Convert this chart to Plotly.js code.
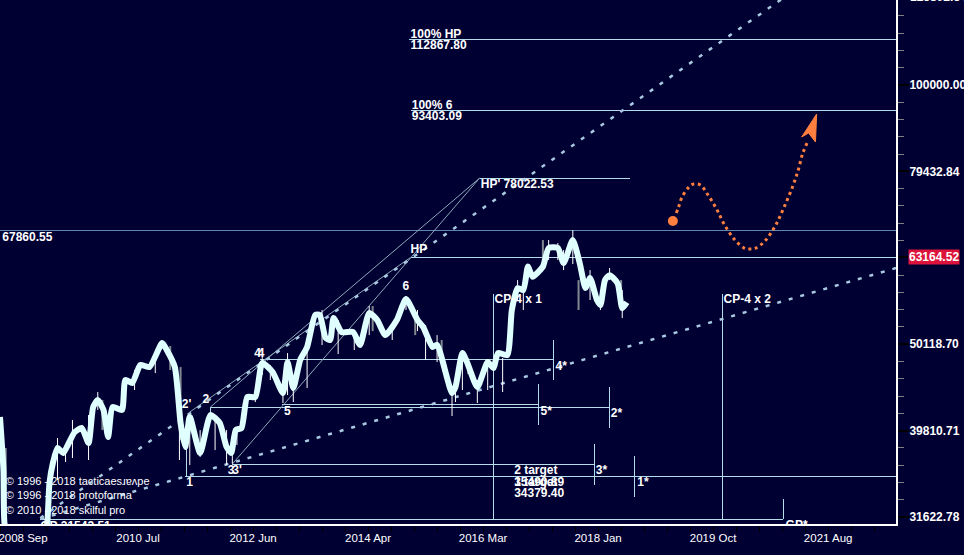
<!DOCTYPE html>
<html><head><meta charset="utf-8">
<script src="https://cdn.plot.ly/plotly-3.0.1.min.js"></script>
<style>html,body{margin:0;padding:0;background:#000033;overflow:hidden}#c{width:964px;height:555px}
.scatterlayer .trace:nth-child(-n+3) .js-line{shape-rendering:crispEdges}</style>
</head><body><div id="c"></div>
<script>
// x values are bar numbers of the chart's time axis; y values are prices
const closeBars=[0,3,4,9,22,35,41,43,46,50,55,59,65,71,77,81,85,90,94,98,106,109,115,122,130,141,145,152,157,161,165,174,183,191,197,201,205,210,215,222,228,237,246,250,255,261,267,274,278,283,287,290,297,307,313,321,328,335,345,353,363,368,376,380,393,396,402,406,415,424,429,433,441,445,450,455,459,463,472,477,485,490,498,504,509,513,519,522,526,530,537,541,545];
const closePrices=[41280,35842,31039,29700,27450,28200,31040,34620,36520,38010,37510,38320,39660,40090,38520,42400,43190,42060,39140,42400,42060,45560,45200,47410,47160,50270,49350,47160,40630,38120,41290,37510,41500,40630,38120,37510,39870,40090,43540,43540,47670,46540,44000,47790,44590,48050,49740,54170,54170,51000,50680,53740,51770,51770,50010,54460,53450,51350,53450,56530,53450,52460,49740,50010,44000,44710,48950,47790,44710,47790,47040,48950,48690,54900,58200,57900,61640,60000,61640,64760,64760,62220,66150,62220,58210,59800,56380,55640,59460,60250,58950,55170,56040];

const wickBars=[50,57,63,77,85,94,106,117,135,156,165,174,187,197,202,206,222,228,235,246,250,255,267,280,294,308,321,341,353,363,370,380,393,396,402,415,424,437,450,455,477,485,490,498,513,522,530,541];
const wickHigh=[39030,38310,40950,41500,44120,40950,43190,46790,48690,40950,40950,39870,41170,39870,38120,39870,44360,49350,47410,45560,48950,44950,50680,54900,53450,52050,55480,52740,56980,54900,52740,51350,43770,45560,49090,45560,47410,48310,59460,58680,66150,65620,64410,67940,61070,56680,61400,57900];
const wickLow=[34900,36610,37010,36810,42060,38830,41830,44360,46410,36810,36320,37110,37800,36320,36440,38310,42960,46160,45560,42850,43770,42960,44590,50010,48820,49350,51350,50680,54900,51900,48050,47790,41390,42960,44360,42850,44360,44120,56380,54900,62720,62720,61070,62050,56380,54900,59460,53740];

const shadeBars=[5,89,148,157,324,361,384,407,472,503,540];
const shadeHigh=[38000,43200,49880,47160,55480,53450,50680,48310,66150,59460,59460];
const shadeLow=[31400,39870,46790,38830,51900,51350,47910,46290,62220,54900,55170];

const levelPrices=[112867.80,93403.09,78022.53,63164.52,48176,42660,42330,36420,35200,31455];
const levelStart=[356,357,417,357,226,245,183,202,161,35];
const levelEnd=[779,779,548,779,481,468,530,517,779,681];
const pivotPrice=[67860.55];

const stemBars=[162,183,429,628,481,468,530,517,552,681];
const stemTop=[38120,42330,57290,57290,50680,45070,44710,38420,37210,33180];
const stemBottom=[35200,41500,31455,31455,45560,40400,40090,34440,33350,31455];

const rayBars0=[165,183,202], rayPrice0=[41830,42400,36420];
const rayBars1=[357,417,417], rayPrice1=[63164.52,78022.53,78022.53];

const lowerTrendBars=[35,779], lowerTrendPrices=[31455,61400];
const upperTrendBars=[35,779], upperTrendPrices=[31540,155600];

const pathBars=[588,590,593,599,603,609,615,623,630,639,647,652,657,665,674,681,689,694,698,703];
const pathPrices=[71100,72240,74190,76200,76810,76600,74790,71860,68860,66150,64760,64590,64760,65970,68680,71860,76200,79730,83420,86360];
const pathStartBar=[585], pathStartPrice=[69600];
const headBars=[710,697,703,709,710], headPrices=[92560,87060,87990,85910,92560];

const labelTexts=["67860.55","100% HP","112867.80","100% 6","93403.09","HP' 78022.53","HP","6","CP-4 x 1","CP-4 x 2","4*","5*","2*","3*","1*","GP*","2 target","1 target","35490.89","34379.40","2'","2","4","4","5","3","3'","1","GP 31543.51"];
const labelBars=[2,357,357,358,358,418,357,350,430,629,483,470,531,518,554,683,447,447,447,447,158,176,221,224,247,198,202,162,35];
const labelPrices=[66500,114250,110960,94560,91830,76600,64430,58370,56380,56380,47160,41830,41600,35750,34620,30870,35750,34620,34620,33620,42620,43190,48820,48820,41830,35750,35750,34620,30790];
const noteTexts=["© 1996 - 2018 tacticaesɹɐʌpe","© 1996 - 2018 protoforma","© 2010 - 2018 skilful pro"];
const noteBars=[5,5,5], notePrices=[34710,33440,32140];

const tickBars=[20,120,220,320,420,520,620,720];
const tickLabels=["2008 Sep","2010 Jul","2012 Jun","2014 Apr","2016 Mar","2018 Jan","2019 Oct","2021 Aug"];
const minorBars=[0,20,40,60,80,100,120,140,160,180,200,220,240,260,280,300,320,340,360,380,400,420,440,460,480,500,520,540,560,580,600,620,640,660,680,700,720,740,760];
const priceTicks=[31622.78,39810.71,50118.70,63164.52,79432.84,100000,125892.54];
const priceLabels=["31622.78","39810.71","50118.70","","79432.84","100000.00",""];
const minorExp=[4.5,4.52,4.54,4.56,4.58,4.6,4.62,4.64,4.66,4.68,4.7,4.72,4.74,4.76,4.78,4.8,4.82,4.84,4.86,4.88,4.9,4.92,4.94,4.96,4.98,5.0,5.02,5.04,5.06,5.08];
const lastPrice=63164.52, topLabel="125892.54";

const BG='#000033',LINE='#b4dceb',RAY='#8ea8b8',FONT='"Liberation Sans", Arial, sans-serif',ORANGE='#ff7f3f';
function segs(a0,a1){const o=[];a0.forEach((v,i)=>o.push(v,a1[i],null));return o;}
const data=[
 {x:[0,779],y:[pivotPrice[0],pivotPrice[0]],mode:'lines',line:{color:'#5f86b3',width:1}},
 {x:segs(levelStart,levelEnd),y:segs(levelPrices,levelPrices),mode:'lines',line:{color:LINE,width:1}},
 {x:segs(stemBars,stemBars),y:segs(stemTop,stemBottom),mode:'lines',line:{color:LINE,width:1}},
 {x:segs(rayBars0,rayBars1),y:segs(rayPrice0,rayPrice1),mode:'lines',line:{color:RAY,width:1}},
 {x:lowerTrendBars,y:lowerTrendPrices,mode:'lines',line:{color:'#a9c9e0',width:2.5,dash:'4px,8px'}},
 {x:upperTrendBars,y:upperTrendPrices,mode:'lines',line:{color:'#a9c9e0',width:2.5,dash:'4px,8px'}},
 {x:segs(shadeBars,shadeBars),y:segs(shadeHigh,shadeLow),mode:'lines',line:{color:'#808890',width:2}},
 {x:segs(wickBars,wickBars),y:segs(wickHigh,wickLow),mode:'lines',line:{color:'#ffffff',width:1}},
 {x:closeBars,y:closePrices,mode:'lines',line:{color:'#e0ffff',width:6,shape:'spline',smoothing:0.55}},
 {x:pathBars,y:pathPrices,mode:'lines',line:{color:ORANGE,width:3,dash:'3px,3.5px',shape:'spline'}},
 {x:pathStartBar,y:pathStartPrice,mode:'markers',marker:{color:ORANGE,size:10}},
 {x:headBars,y:headPrices,mode:'lines',fill:'toself',fillcolor:ORANGE,line:{color:ORANGE,width:1}},
 {x:labelBars,y:labelPrices,mode:'text',text:labelTexts,textposition:'middle right',cliponaxis:true,textfont:{family:FONT,size:12,color:'#ffffff',weight:'bold'}},
 {x:noteBars,y:notePrices,mode:'text',text:noteTexts,textposition:'middle right',cliponaxis:true,textfont:{family:FONT,size:11,color:'#ffffff'}}
];
const layout={
 width:964,height:555,margin:{l:0,r:68,t:0,b:31,pad:0},paper_bgcolor:BG,plot_bgcolor:BG,showlegend:false,hovermode:false,
 xaxis:{type:'linear',range:[0,779],showgrid:false,zeroline:false,showline:true,linecolor:'#ffffff',linewidth:2,
  tickmode:'array',tickvals:tickBars,ticktext:tickLabels,ticks:'outside',ticklen:6,tickcolor:'#000000',tickwidth:1,
  ticklabeloverflow:'allow',ticklabelstandoff:-4,
  tickfont:{family:FONT,size:11.5,color:'#ffffff'},
  minor:{tickmode:'array',tickvals:minorBars,ticks:'outside',ticklen:6,tickcolor:'#000000',tickwidth:1,showgrid:false}},
 yaxis:{type:'log',range:[4.4919,5.0984],side:'right',showgrid:false,zeroline:false,showline:true,linecolor:'#ffffff',linewidth:2,
  tickmode:'array',tickvals:priceTicks,ticktext:priceLabels,ticks:'outside',ticklen:11,tickcolor:'#000000',tickwidth:2,
  ticklabeloverflow:'allow',ticklabelstandoff:-2,
  tickfont:{family:FONT,size:12,color:'#ffffff',weight:'bold'},
  minor:{tickmode:'array',tickvals:minorExp.map(e=>Math.pow(10,e)),ticks:'outside',ticklen:6,tickcolor:'#808080',tickwidth:1,showgrid:false}},
 annotations:[
  {xref:'paper',yref:'y',x:1.0134,y:Math.log10(lastPrice),xanchor:'left',yanchor:'middle',showarrow:false,text:lastPrice.toFixed(2),bgcolor:'#dc143c',borderpad:0,font:{family:FONT,size:12,color:'#ffffff',weight:'bold'}},
  {xref:'paper',yref:'paper',x:1.015,y:1,xanchor:'left',yanchor:'middle',yshift:3,showarrow:false,text:topLabel,borderpad:0,font:{family:FONT,size:12,color:'#ffffff',weight:'bold'}}
 ]
};
Plotly.newPlot('c',data,layout,{staticPlot:true,displayModeBar:false});
</script></body></html>
